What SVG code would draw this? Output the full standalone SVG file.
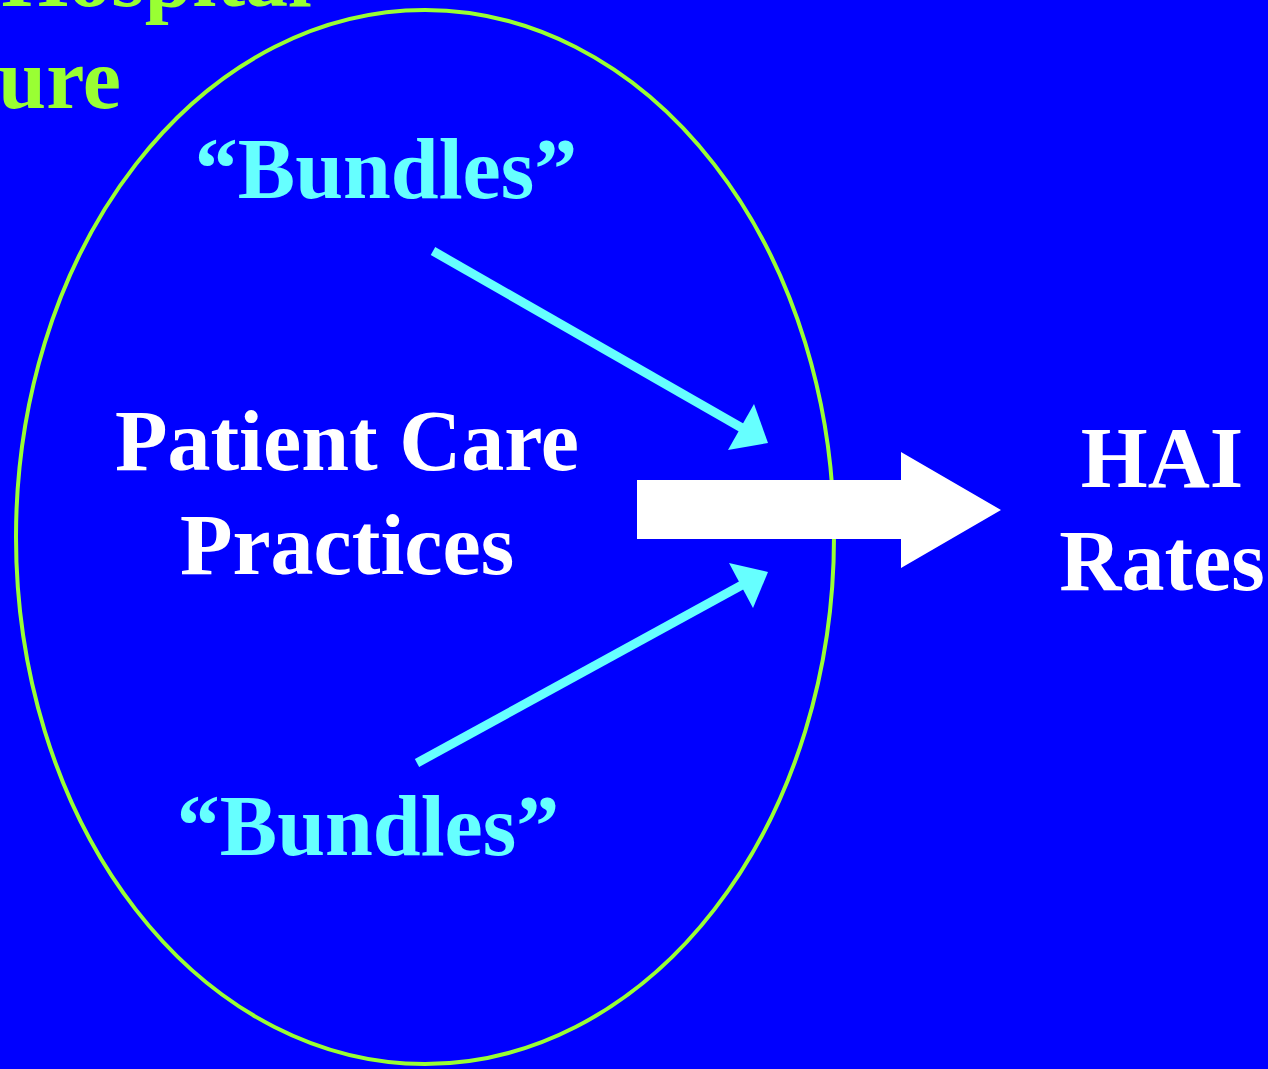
<svg xmlns="http://www.w3.org/2000/svg" width="1268" height="1069" viewBox="0 0 1268 1069">
<style>
.t{font-family:"Liberation Serif","Times New Roman",serif;font-weight:bold;font-size:86px}
.g{fill:#99FF33}
.w{fill:#FFFFFF}
.c{fill:#66FFFF}
.cl{stroke:#66FFFF;stroke-width:9;fill:none}
</style>
<rect width="1268" height="1069" fill="#0000FF"/>
<g id="culture">
<text class="t g" x="312" y="6" text-anchor="end">Hospital</text>
<text class="t g" x="121" y="108" text-anchor="end">Culture</text>
<ellipse cx="425" cy="537" rx="409" ry="527" fill="none" stroke="#99FF33" stroke-width="4"/>
</g>
<g id="bundles-top"><text class="t c" x="386" y="198" text-anchor="middle">“Bundles”</text></g>
<g id="bundles-bottom"><text class="t c" x="368" y="855" text-anchor="middle">“Bundles”</text></g>
<g id="practices">
<text class="t w" x="347" y="470" text-anchor="middle">Patient Care</text>
<text class="t w" x="347" y="574" text-anchor="middle">Practices</text>
</g>
<g id="hai">
<text class="t w" x="1162" y="487" text-anchor="middle">HAI</text>
<text class="t w" x="1162" y="590" text-anchor="middle">Rates</text>
</g>
<g id="connectors">
<line class="cl" x1="433" y1="251" x2="742" y2="428"/>
<polygon class="c" points="768,443 754,404 728,450"/>
<line class="cl" x1="417" y1="763" x2="742" y2="585"/>
<polygon class="c" points="768,572 729,563 753,608"/>
<polygon class="w" points="637,480 901,480 901,452 1001,510 901,568 901,539 637,539"/>
</g>
</svg>
